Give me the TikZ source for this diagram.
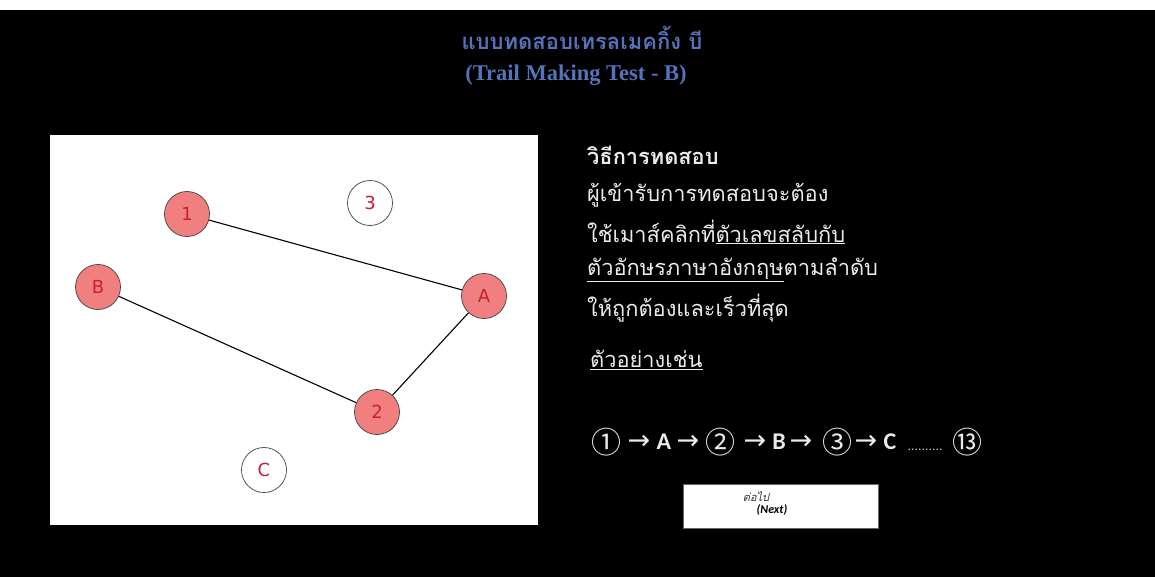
\documentclass[tikz,border=0pt]{standalone}
\usepackage{fontspec}
\setmainfont{Liberation Serif}
\newfontfamily\thaif[Script=Thai]{Loma}
\newfontfamily\dejavu{DejaVu Sans}
\newfontfamily\carl{Carlito}
\newfontfamily\cjkf{Noto Sans CJK JP}
\definecolor{nodered}{RGB}{240,128,128}
\definecolor{labelred}{RGB}{200,30,55}
\definecolor{titleblue}{RGB}{85,115,185}
\definecolor{txtgray}{RGB}{235,235,235}
\tikzset{
  gn/.style={circle, draw=black!75, line width=0.7pt, minimum size=45pt, inner sep=0pt,
    font=\dejavu\fontsize{18}{18}\selectfont, text=labelred},
  on/.style={gn, fill=nodered},
  off/.style={gn, fill=white},
  edge/.style={draw=black, line width=1.1pt},
  body/.style={anchor=west, inner sep=0pt, text=txtgray, font=\thaif\fontsize{21.8}{22}\selectfont},
  sym/.style={inner sep=0pt, text=txtgray, font=\dejavu\fontsize{27}{27}\selectfont},
  circ/.style={inner sep=0pt, text=txtgray, font=\cjkf\fontsize{30}{30}\selectfont},
  let/.style={inner sep=0pt, text=txtgray, font=\carl\bfseries\fontsize{24}{24}\selectfont},
}
\begin{document}
\begin{tikzpicture}[x=1pt,y=-1pt]
\useasboundingbox (0,0) rectangle (1155,577);
\fill[white] (0,0) rectangle (1155,10);
\fill[black] (0,10) rectangle (1155,577);
% title
\node[font=\thaif\bfseries\fontsize{22}{22}\selectfont, text=titleblue, inner sep=0pt] (title) at (582,38) {แบบทดสอบเทรลเมคกิ้ง บี};
\node[font=\bfseries\fontsize{22.5}{22.5}\selectfont, text=titleblue, inner sep=0pt] (subtitle) at (576,75) {(Trail Making Test - B)};
% panel
\fill[white] (50,135) rectangle (538,525);
\node[on]  (n1) at (187,214) {1};
\node[off] (n3) at (370,203) {3};
\node[on]  (nB) at (98,287)  {B};
\node[on]  (nA) at (484,296) {A};
\node[on]  (n2) at (377,412) {2};
\node[off] (nC) at (264,470) {C};
\draw[edge] (n1) -- (nA);
\draw[edge] (nA) -- (n2);
\draw[edge] (n2) -- (nB);
% instructions
\node[body, font=\thaif\bfseries\fontsize{21.8}{22}\selectfont] (h) at (587,155) {วิธีการทดสอบ};
\node[body] (l1) at (587,195) {ผู้เข้ารับการทดสอบจะต้อง};
\node[body] (l2) at (587,232) {ใช้เมาส์คลิกที่\underline{ตัวเลขสลับกับ}};
\node[body] (l3) at (587,270) {\underline{ตัวอักษรภาษาอังกฤษ}ตามลำดับ};
\node[body] (l4) at (587,308) {ให้ถูกต้องและเร็วที่สุด};
\node[body] (l5) at (590,360) {\underline{ตัวอย่างเช่น}};
% sequence
\node[circ] (s1) at (606,442) {①};
\node[sym] (a1) at (639,442) {→};
\node[let] (sA) at (664,442) {A};
\node[sym] (a2) at (688,442) {→};
\node[circ] (s2) at (720,442) {②};
\node[sym] (a3) at (755,442) {→};
\node[let] (sB) at (779,442) {B};
\node[sym] (a4) at (801,442) {→};
\node[circ] (s3) at (837,442) {③};
\node[sym] (a5) at (866,442) {→};
\node[let] (sC) at (890,442) {C};
\node[inner sep=0pt, text=txtgray, font=\dejavu\fontsize{11}{11}\selectfont, anchor=base] (dots) at (925,450) {..........};
\node[circ] (s13) at (967,442) {⑬};
% next button
\node[draw=black!60, fill=white, minimum width=195pt, minimum height=44pt, inner sep=0pt] (btn) at (780.5,506) {};
\node[font=\thaif\itshape\fontsize{11}{11}\selectfont, text=black!80, inner sep=0pt] (bt1) at (756,497) {ต่อไป};
\node[font=\carl\bfseries\itshape\fontsize{12}{12}\selectfont, text=black, inner sep=0pt] (bt2) at (772,510) {(Next)};
\end{tikzpicture}
\end{document}
